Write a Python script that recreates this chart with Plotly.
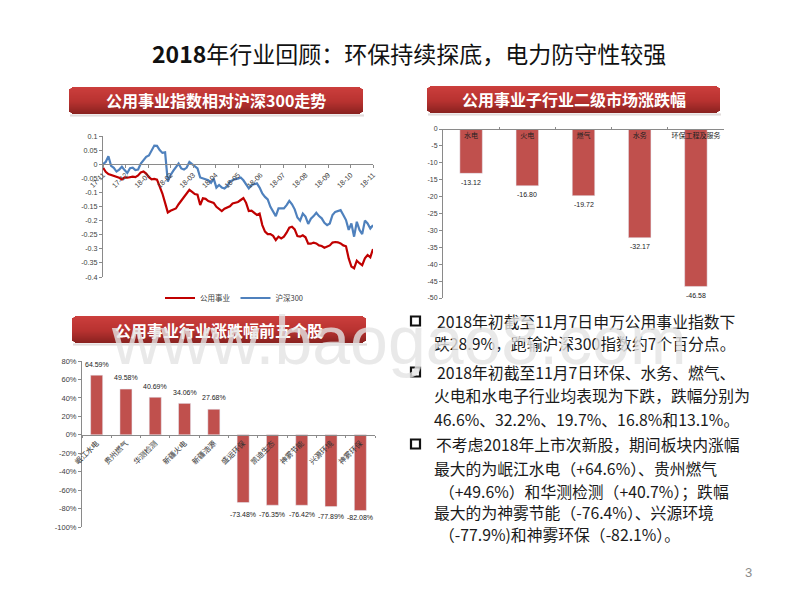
import plotly.graph_objects as go

FONT = "Liberation Sans, Noto Sans CJK SC, sans-serif"
CJK = "Noto Sans CJK SC, Liberation Sans, sans-serif"

months = ["17-11","17-12","18-01","18-02","18-03","18-04","18-05","18-06","18-07","18-08","18-09","18-10","18-11"]
month_pos = list(range(13))
y1_ticks = [0.1,0.05,0,-0.05,-0.1,-0.15,-0.2,-0.25,-0.3,-0.35,-0.4]
y1_labels = ["0.1","0.05","0","-0.05","-0.1","-0.15","-0.2","-0.25","-0.3","-0.35","-0.4"]
utility = [-.012,-.027,-.035,-.038,-.040,-.045,-.048,-.054,-.047,-.048,-.045,-.044,-.046,-.040,-.029,-.026,-.033,-.046,-.054,-.052,
 -.055,-.078,-.104,-.137,-.171,-.165,-.162,-.157,-.142,-.130,-.118,-.106,-.091,-.098,-.106,-.108,-.145,-.121,-.123,-.131,
 -.133,-.137,-.151,-.160,-.166,-.158,-.153,-.149,-.139,-.137,-.134,-.127,-.120,-.137,-.166,-.165,-.172,-.180,-.175,-.216,
 -.239,-.248,-.248,-.254,-.269,-.257,-.263,-.257,-.243,-.225,-.222,-.231,-.255,-.257,-.252,-.259,-.282,-.282,-.278,-.281,
 -.288,-.290,-.296,-.292,-.288,-.278,-.276,-.277,-.281,-.288,-.291,-.334,-.363,-.369,-.342,-.351,-.358,-.334,-.322,-.330,-.301]
hs300 = [0,.008,.028,-.006,-.013,-.026,-.019,-.009,-.021,-.031,-.014,-.012,-.021,-.019,.002,.014,.026,.031,.047,.066,
 .065,.050,.040,.042,-.062,-.039,-.024,-.012,.002,-.015,-.019,-.012,.008,0,-.007,-.015,-.047,-.050,-.054,-.057,
 -.066,-.051,-.083,-.074,-.083,-.086,-.078,-.062,-.057,-.052,-.051,-.047,-.057,-.071,-.086,-.074,-.071,-.068,-.083,-.104,
 -.116,-.125,-.151,-.169,-.184,-.157,-.157,-.157,-.145,-.130,-.142,-.160,-.189,-.200,-.175,-.186,-.212,-.193,-.184,-.172,
 -.184,-.192,-.208,-.216,-.210,-.180,-.169,-.165,-.163,-.180,-.198,-.233,-.210,-.257,-.204,-.233,-.248,-.200,-.210,-.228,-.216]
line_x = [i * 0.12 for i in range(101)]

sub_names = ["水电","火电","燃气","水务","环保工程及服务"]
sub_vals = [-13.12,-16.80,-19.72,-32.17,-46.58]
sub_labels = ["-13.12","-16.80","-19.72","-32.17","-46.58"]
y2_ticks = [0,-5,-10,-15,-20,-25,-30,-35,-40,-45,-50]
y2_labels = ["0","-5","-10","-15","-20","-25","-30","-35","-40","-45","-50"]

stock_names = ["岷江水电","贵州燃气","华测检测","新疆火电","新疆浩源","盛运环保","凯迪生态","神雾节能","兴源环境","神雾环保"]
stock_vals = [64.59,49.58,40.69,34.06,27.68,-73.48,-76.35,-76.42,-77.89,-82.08]
stock_labels = ["64.59%","49.58%","40.69%","34.06%","27.68%","-73.48%","-76.35%","-76.42%","-77.89%","-82.08%"]
label_shift = [11,12,11,11,12,-12,-9,-9,-10,-7]
y3_ticks = [80,60,40,20,0,-20,-40,-60,-80,-100]
y3_labels = ["80%","60%","40%","20%","0%","-20%","-40%","-60%","-80%","-100%"]

title = "<b>2018</b>年行业回顾\uff1a环保持续探底\uff0c电力防守性较强"
headers = ["公用事业指数相对沪深300走势","公用事业子行业二级市场涨跌幅","公用事业行业涨跌幅前五个股"]
header_boxes = [(69,87,363,114),(427,86,720,113),(72,316,366,343)]
body_lines = [
 (435,321,"2018年初截至11月7日申万公用事业指数下"),
 (432,343,"跌28.9%\uff0c跑输沪深300指数约7个百分点。"),
 (435,372,"2018年初截至11月7日环保、水务、燃气、"),
 (432,395,"火电和水电子行业均表现为下跌\uff0c跌幅分别为"),
 (432,419,"46.6%、32.2%、19.7%、16.8%和13.1%。"),
 (434,444,"不考虑2018年上市次新股\uff0c期间板块内涨幅"),
 (432,468,"最大的为岷江水电\uff08+64.6%\uff09、贵州燃气"),
 (437,491,"\uff08+49.6%\uff09和华测检测\uff08+40.7%\uff09\uff1b跌幅"),
 (432,512,"最大的为神雾节能\uff08-76.4%\uff09、兴源环境"),
 (437,534,"\uff08-77.9%)和神雾环保\uff08-82.1%\uff09。"),
]
bullets_y = [321,372,444]

W, H = 800, 600
fx = lambda p: p / W
fy = lambda p: 1 - p / H
AX = "#8a8a8a"
TICK = dict(size=7.2, color="#404040", family=FONT)

fig = go.Figure()
fig.add_trace(go.Scatter(x=line_x, y=utility, mode="lines", name="公用事业", xaxis="x", yaxis="y",
                         line=dict(color="#C00000", width=2.2)))
fig.add_trace(go.Scatter(x=line_x, y=hs300, mode="lines", name="沪深300", xaxis="x", yaxis="y",
                         line=dict(color="#4F81BD", width=2.2)))
fig.add_trace(go.Bar(x=sub_names, y=sub_vals, xaxis="x2", yaxis="y2", width=0.4, showlegend=False,
                     marker=dict(color="#C0504D")))
fig.add_trace(go.Bar(x=stock_names, y=stock_vals, xaxis="x3", yaxis="y3", width=0.41, showlegend=False,
                     marker=dict(color="#C0504D")))

shapes = []
def lerp(a, b, t):
    return tuple(round(a[i] + (b[i] - a[i]) * t) for i in range(3))
for (x0, y0, x1, y1) in header_boxes:
    for k, a in enumerate((0.10, 0.18, 0.10)):
        shapes.append(dict(type="rect", xref="paper", yref="paper", layer="below",
                           x0=fx(x0 + 1), x1=fx(x1 + 1), y0=fy(y1 + k), y1=fy(y1 + k + 1),
                           fillcolor=f"rgba(90,60,60,{a})", line_width=0))
    n = y1 - y0
    for r in range(n):
        t = r / (n - 1)
        if t < 0.55:
            c = lerp((203, 62, 60), (184, 50, 48), t / 0.55)
        else:
            c = lerp((184, 50, 48), (138, 34, 32), (t - 0.55) / 0.45)
        inset = {0: 3, 1: 1.5, n - 2: 1.5, n - 1: 3}.get(r, 0)
        shapes.append(dict(type="rect", xref="paper", yref="paper", layer="below",
                           x0=fx(x0 + inset), x1=fx(x1 - inset), y0=fy(y0 + r + 1), y1=fy(y0 + r),
                           fillcolor=f"rgb{c}", line_width=0))
for by in bullets_y:
    shapes.append(dict(type="rect", xref="paper", yref="paper", x0=fx(411), x1=fx(420), y0=fy(by + 4.5), y1=fy(by - 4.5),
                       fillcolor="white", line=dict(color="#111111", width=2.2)))

ann = []
def text(x, y, s, size, color="#000000", xanchor="center", family=CJK, **kw):
    ann.append(dict(xref="paper", yref="paper", x=fx(x), y=fy(y), text=s, showarrow=False,
                    xanchor=xanchor, yanchor="middle", font=dict(size=size, color=color, family=family), **kw))

text(409, 53, title, 23, color="#111111", family=CJK)
for s, (x0, y0, x1, y1) in zip(headers, header_boxes):
    text((x0 + x1) / 2, (y0 + y1) / 2, f"<b>{s}</b>", 16, color="white")
for x, y, s in body_lines:
    text(x, y, s, 15.8, color="#1a1a1a", xanchor="left")
for name, v, s in zip(sub_names, sub_vals, sub_labels):
    ann.append(dict(xref="x2", yref="y2", x=name, y=v, text=s, showarrow=False, yshift=-9, yanchor="middle",
                    font=dict(size=7, color="#222222", family=FONT)))
for name, v, s, d in zip(stock_names, stock_vals, stock_labels, label_shift):
    ann.append(dict(xref="x3", yref="y3", x=name, y=v, text=s, showarrow=False, yshift=d, yanchor="middle",
                    font=dict(size=7, color="#222222", family=FONT)))
text(748, 572, "3", 13, color="#8c8c8c", family=FONT)
ann.append(dict(xref="paper", yref="paper", x=fx(399), y=fy(340), text="www.baogao8.com", showarrow=False,
                xanchor="center", yanchor="middle",
                font=dict(size=68, color="rgba(228,228,228,0.8)", family="Liberation Sans")))

common = dict(automargin=False, showline=True, linecolor=AX, tickcolor=AX, showgrid=False, zeroline=False)
fig.update_layout(
    width=W, height=H, margin=dict(l=0, r=0, t=0, b=0, pad=0), autosize=False,
    paper_bgcolor="white", plot_bgcolor="rgba(0,0,0,0)", font=dict(family=FONT), bargap=0.6,
    shapes=shapes, annotations=ann,
    legend=dict(orientation="h", x=fx(234), y=fy(298), xanchor="center", yanchor="middle",
                font=dict(size=7.5, color="#404040", family=CJK), bgcolor="rgba(0,0,0,0)"),
    xaxis=dict(domain=[fx(103), fx(373)], range=[0, 12], tickvals=month_pos, ticktext=months, tickangle=-45,
               anchor="free", position=fy(164), ticks="outside", ticklen=3, tickfont=TICK, **common),
    yaxis=dict(domain=[fy(277), fy(136)], range=[-0.4, 0.1], tickvals=y1_ticks, ticktext=y1_labels, anchor="x",
               ticks="outside", ticklen=3, tickfont=TICK, **common),
    xaxis2=dict(domain=[fx(443), fx(724)], range=[-0.5, 4.5], type="category", categoryorder="array",
                categoryarray=sub_names, side="bottom", anchor="free", position=fy(129), tickson="boundaries",
                tickangle=0, ticks="inside", ticklen=2, tickfont=dict(size=7, color="#222222", family=CJK), **common),
    yaxis2=dict(domain=[fy(298), fy(129)], range=[-50, 0], tickvals=y2_ticks, ticktext=y2_labels, anchor="x2",
                ticks="outside", ticklen=3, tickfont=dict(size=7, color="#404040", family=FONT), **common),
    xaxis3=dict(domain=[fx(82), fx(375)], range=[-0.5, 9.5], type="category", categoryorder="array",
                categoryarray=stock_names, tickangle=-45, anchor="free", position=fy(435), tickson="boundaries",
                ticks="outside", ticklen=2, tickfont=dict(size=7.5, color="#333333", family=CJK), **common),
    yaxis3=dict(domain=[fy(527), fy(361)], range=[-100, 80], tickvals=y3_ticks, ticktext=y3_labels, anchor="x3",
                ticks="outside", ticklen=3, tickfont=dict(size=7.5, color="#404040", family=FONT), **common),
)
fig.write_html("out.html", config=dict(displayModeBar=False),
               post_script="document.body.style.margin='0';document.documentElement.style.overflow='hidden';")
